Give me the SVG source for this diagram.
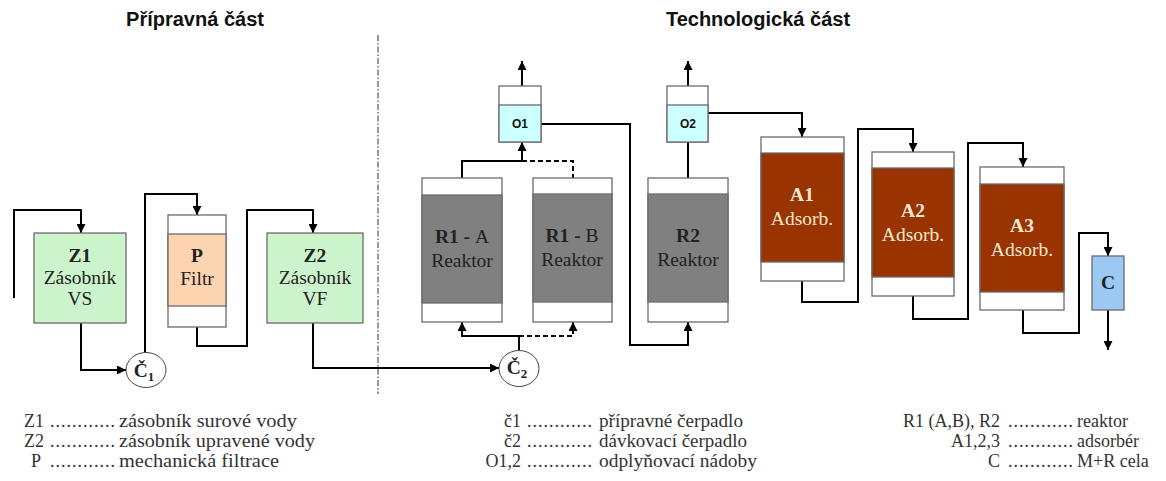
<svg xmlns="http://www.w3.org/2000/svg" width="1166" height="481" viewBox="0 0 1166 481">
  <defs>
    <marker id="arr" viewBox="0 0 10 10" refX="10" refY="5" markerWidth="9" markerHeight="9" markerUnits="userSpaceOnUse" orient="auto">
      <path d="M0,0 L10,5 L0,10 z" fill="#000"/>
    </marker>
    <style>
      .title { font-family: "Liberation Sans", Arial, sans-serif; font-weight: bold; font-size: 20px; fill: #111; text-anchor: middle; }
      .box { stroke: #6b6b6b; stroke-width: 1.3; }
      .shell { fill: #fff; stroke: #6b6b6b; stroke-width: 1.3; }
      .lbl { font-family: "Liberation Serif", "Times New Roman", serif; font-size: 19.5px; fill: #222; text-anchor: middle; }
      .b { font-weight: bold; }
      .light { fill: #f6ead2; }
      .small { font-family: "Liberation Sans", Arial, sans-serif; font-weight: bold; font-size: 12px; fill: #111; text-anchor: middle; }
      .flow { fill: none; stroke: #000; stroke-width: 2; }
      .dash { stroke-dasharray: 5 3; }
      .leg { font-family: "Liberation Serif", "Times New Roman", serif; font-size: 18px; fill: #333; }
      .key { text-anchor: end; }
      .dots { letter-spacing: 1px; }
    </style>
  </defs>

  <!-- section titles -->
  <text class="title" x="195" y="26">Přípravná část</text>
  <text class="title" x="758" y="26">Technologická část</text>

  <!-- boundary between the two sections -->
  <line x1="378" y1="35" x2="378" y2="394" stroke="#333" stroke-width="1" stroke-dasharray="6 2 1.5 2"/>

  <!-- connectors -->
  <g id="connectors">
    <path class="flow" d="M14,298 V210 H81 V233" marker-end="url(#arr)"/>
    <path class="flow" d="M81,323 V370 H126" marker-end="url(#arr)"/>
    <path class="flow" d="M145,353 V194 H197 V215" marker-end="url(#arr)"/>
    <path class="flow" d="M197,327 V346 H247 V210 H313 V233" marker-end="url(#arr)"/>
    <path class="flow" d="M313,323 V368 H499" marker-end="url(#arr)"/>
    <path class="flow" d="M519,350 V336 H462 V322" marker-end="url(#arr)"/>
    <path class="flow dash" d="M519,336 H573 V322" marker-end="url(#arr)"/>
    <path class="flow" d="M462,178 V161 H522 V142" marker-end="url(#arr)"/>
    <path class="flow dash" d="M522,161 H573 V178"/>
    <path class="flow" d="M522,86 V61" marker-end="url(#arr)"/>
    <path class="flow" d="M541,124 H630 V345 H688 V322" marker-end="url(#arr)"/>
    <path class="flow" d="M688,178 V142"/>
    <path class="flow" d="M688,86 V61" marker-end="url(#arr)"/>
    <path class="flow" d="M708,113 H802 V137" marker-end="url(#arr)"/>
    <path class="flow" d="M802,281 V302 H858 V129 H913 V152" marker-end="url(#arr)"/>
    <path class="flow" d="M913,296 V319 H968 V143 H1023 V167" marker-end="url(#arr)"/>
    <path class="flow" d="M1023,310 V333 H1079 V233 H1108 V256" marker-end="url(#arr)"/>
    <path class="flow" d="M1108,310 V350" marker-end="url(#arr)"/>
  </g>

  <!-- storage tanks and filter -->
  <g id="Z1">
    <rect class="box" x="34" y="233" width="92" height="90" fill="#ccf4cc"/>
    <text class="lbl b" x="80" y="262">Z1</text>
    <text class="lbl" x="80" y="284">Zásobník</text>
    <text class="lbl" x="80" y="305">VS</text>
  </g>
  <g id="P">
    <rect class="shell" x="168" y="215" width="58" height="112"/>
    <rect class="box" x="168" y="234" width="58" height="72" fill="#fcd5b0"/>
    <text class="lbl b" x="197" y="262">P</text>
    <text class="lbl" x="197" y="285">Filtr</text>
  </g>
  <g id="Z2">
    <rect class="box" x="267" y="233" width="96" height="90" fill="#ccf4cc"/>
    <text class="lbl b" x="315" y="262">Z2</text>
    <text class="lbl" x="315" y="284">Zásobník</text>
    <text class="lbl" x="315" y="305">VF</text>
  </g>

  <!-- pumps -->
  <g id="C1">
    <ellipse cx="146" cy="370" rx="20" ry="17.5" fill="#fff" stroke="#444" stroke-width="1"/>
    <text class="lbl b" x="144" y="377">Č<tspan font-size="13" dy="4">1</tspan></text>
  </g>
  <g id="C2">
    <ellipse cx="519" cy="368.5" rx="20" ry="18" fill="#fff" stroke="#444" stroke-width="1"/>
    <text class="lbl b" x="517" y="374">Č<tspan font-size="13" dy="4">2</tspan></text>
  </g>

  <!-- reactors -->
  <g id="R1A">
    <rect class="shell" x="422" y="178" width="80" height="144"/>
    <rect class="box" x="422" y="195" width="80" height="108" fill="#808080"/>
    <text class="lbl" x="462" y="243"><tspan class="b">R1 - </tspan>A</text>
    <text class="lbl" x="462" y="267">Reaktor</text>
  </g>
  <g id="R1B">
    <rect class="shell" x="533" y="178" width="79" height="144"/>
    <rect class="box" x="533" y="194" width="79" height="108" fill="#808080"/>
    <text class="lbl" x="572" y="242"><tspan class="b">R1 - </tspan>B</text>
    <text class="lbl" x="572" y="266">Reaktor</text>
  </g>
  <g id="R2">
    <rect class="shell" x="648" y="178" width="80" height="144"/>
    <rect class="box" x="648" y="194" width="80" height="108" fill="#808080"/>
    <text class="lbl b" x="688" y="242">R2</text>
    <text class="lbl" x="688" y="266">Reaktor</text>
  </g>

  <!-- degassing vessels -->
  <g id="O1">
    <rect class="shell" x="499" y="86" width="42" height="56"/>
    <rect class="box" x="499" y="105" width="42" height="37" fill="#ccffff"/>
    <text class="small" x="520" y="128">O1</text>
  </g>
  <g id="O2">
    <rect class="shell" x="667" y="86" width="41" height="56"/>
    <rect class="box" x="667" y="105" width="41" height="37" fill="#ccffff"/>
    <text class="small" x="688" y="128">O2</text>
  </g>

  <!-- adsorbers -->
  <g id="A1">
    <rect class="shell" x="761" y="137" width="83" height="144"/>
    <rect class="box" x="761" y="153" width="83" height="109" fill="#993300"/>
    <text class="lbl b light" x="802" y="201">A1</text>
    <text class="lbl light" x="802" y="225">Adsorb.</text>
  </g>
  <g id="A2">
    <rect class="shell" x="872" y="152" width="82" height="144"/>
    <rect class="box" x="872" y="168" width="82" height="109" fill="#993300"/>
    <text class="lbl b light" x="913" y="217">A2</text>
    <text class="lbl light" x="913" y="241">Adsorb.</text>
  </g>
  <g id="A3">
    <rect class="shell" x="980" y="167" width="84" height="143"/>
    <rect class="box" x="980" y="184" width="84" height="108" fill="#993300"/>
    <text class="lbl b light" x="1022" y="232">A3</text>
    <text class="lbl light" x="1022" y="256">Adsorb.</text>
  </g>

  <!-- cell -->
  <g id="C">
    <rect class="box" x="1092" y="256" width="32" height="54" fill="#9cc8f4"/>
    <text class="lbl b" x="1108" y="289" fill="#1f3a60">C</text>
  </g>

  <!-- legend -->
  <g id="legend">
    <text class="leg key" x="44" y="427">Z1</text>
    <text class="leg dots" x="50" y="427">............</text>
    <text class="leg" x="119" y="427" textLength="178" lengthAdjust="spacingAndGlyphs">zásobník surové vody</text>
    <text class="leg key" x="44" y="447">Z2</text>
    <text class="leg dots" x="50" y="447">............</text>
    <text class="leg" x="119" y="447" textLength="196" lengthAdjust="spacingAndGlyphs">zásobník upravené vody</text>
    <text class="leg key" x="41" y="467">P</text>
    <text class="leg dots" x="50" y="467">............</text>
    <text class="leg" x="119" y="467" textLength="160" lengthAdjust="spacingAndGlyphs">mechanická filtrace</text>

    <text class="leg key" x="521" y="427">č1</text>
    <text class="leg dots" x="527" y="427">............</text>
    <text class="leg" x="599" y="427" textLength="144" lengthAdjust="spacingAndGlyphs">přípravné čerpadlo</text>
    <text class="leg key" x="521" y="447">č2</text>
    <text class="leg dots" x="527" y="447">............</text>
    <text class="leg" x="599" y="447" textLength="148" lengthAdjust="spacingAndGlyphs">dávkovací čerpadlo</text>
    <text class="leg key" x="521" y="467">O1,2</text>
    <text class="leg dots" x="527" y="467">............</text>
    <text class="leg" x="599" y="467" textLength="158" lengthAdjust="spacingAndGlyphs">odplyňovací nádoby</text>

    <text class="leg key" x="1000" y="427">R1 (A,B), R2</text>
    <text class="leg dots" x="1008" y="427">............</text>
    <text class="leg" x="1077" y="427">reaktor</text>
    <text class="leg key" x="1000" y="447">A1,2,3</text>
    <text class="leg dots" x="1008" y="447">............</text>
    <text class="leg" x="1077" y="447">adsorbér</text>
    <text class="leg key" x="1000" y="467">C</text>
    <text class="leg dots" x="1008" y="467">............</text>
    <text class="leg" x="1077" y="467">M+R cela</text>
  </g>
</svg>
